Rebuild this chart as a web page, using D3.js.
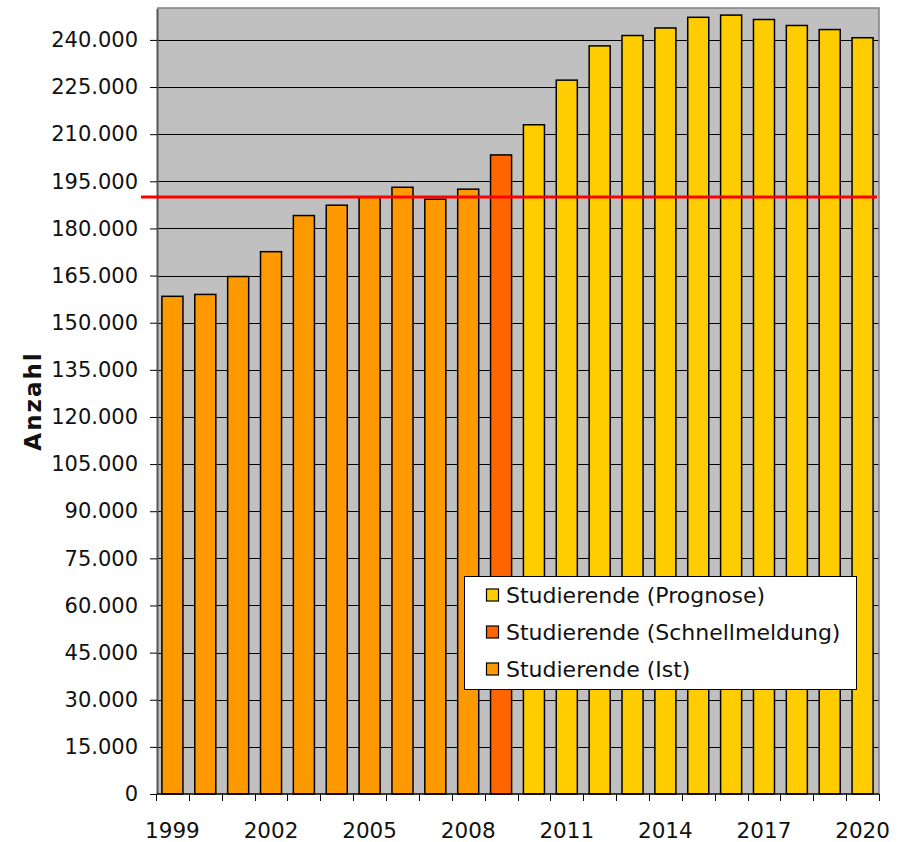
<!DOCTYPE html>
<html><head><meta charset="utf-8">
<script src="https://cdn.jsdelivr.net/npm/d3@7"></script>
<style>body{margin:0;background:#fff}svg{display:block}text{font-family:"DejaVu Sans",sans-serif;fill:#111}</style>
</head><body><svg id="c" width="903" height="842"></svg>
<script>
const years = [1999,2000,2001,2002,2003,2004,2005,2006,2007,2008,2009,2010,2011,2012,2013,2014,2015,2016,2017,2018,2019,2020];
const studierende = [158400,159000,164700,172600,184100,187400,189900,193100,189300,192500,203400,213000,227200,238100,241400,243800,247200,247900,246500,244600,243300,240700];
const seriesType = ["Ist","Ist","Ist","Ist","Ist","Ist","Ist","Ist","Ist","Ist","Schnellmeldung","Prognose","Prognose","Prognose","Prognose","Prognose","Prognose","Prognose","Prognose","Prognose","Prognose","Prognose"];
const legendLabels = ["Studierende (Prognose)","Studierende (Schnellmeldung)","Studierende (Ist)"];
const legendKeys = ["Prognose","Schnellmeldung","Ist"];
const yTicks = [0,15000,30000,45000,60000,75000,90000,105000,120000,135000,150000,165000,180000,195000,210000,225000,240000];
const xLabelYears = [1999,2002,2005,2008,2011,2014,2017,2020];
const referenceValue = 190000;
const colors = {Ist:"#FF9900", Schnellmeldung:"#FF6600", Prognose:"#FFCC00"};

const svg = d3.select("#c");
const L=157, R=879, T=8, B=794;
const x = d3.scaleBand().domain(years).range([156, R]).paddingInner(0.36).paddingOuter(0.18);
const y = d3.scaleLinear().domain([0,250000]).range([B, 8.5]);
const fmt = v => d3.format(",")(v).replace(/,/g,".");

svg.append("rect").attr("x",L).attr("y",T).attr("width",R-L).attr("height",B-T).attr("fill","#C0C0C0");

// grid
svg.append("g").selectAll("line").data(yTicks.filter(d=>d>0)).join("line")
  .attr("x1",L).attr("x2",R).attr("y1",d=>Math.round(y(d))+0.5).attr("y2",d=>Math.round(y(d))+0.5)
  .attr("stroke","#000").attr("stroke-width",1);

// border
svg.append("path").attr("d",`M${L},${T}H${R}V${B}`).attr("fill","none").attr("stroke","#808080").attr("stroke-width",1.5);

// bars
svg.append("g").selectAll("rect").data(years).join("rect")
  .attr("x",(d)=>x(d)).attr("width",x.bandwidth())
  .attr("y",(d,i)=>y(studierende[i])).attr("height",(d,i)=>B-y(studierende[i]))
  .attr("fill",(d,i)=>colors[seriesType[i]]).attr("stroke","#000").attr("stroke-width",1.5);

// y axis
const ya = svg.append("g").attr("transform",`translate(${L},0)`)
  .call(d3.axisLeft(y).tickValues(yTicks).tickFormat(fmt).tickSize(7).tickPadding(12).tickSizeOuter(0));
ya.select(".domain").attr("stroke","#555").attr("stroke-width",2);
ya.selectAll(".tick line").attr("stroke","#000");
ya.selectAll("text").attr("font-size",21).attr("fill","#111").attr("font-family","DejaVu Sans");

// x axis
const step = x.step();
const bounds = years.map(d=>x(d)-(step-x.bandwidth())/2).concat([x(years[years.length-1])+x.bandwidth()+(step-x.bandwidth())/2]);
const xg = svg.append("g");
xg.append("line").attr("x1",L).attr("x2",R).attr("y1",B).attr("y2",B).attr("stroke","#000").attr("stroke-width",1.5);
xg.selectAll("line.t").data(bounds).join("line").attr("class","t")
  .attr("x1",d=>Math.round(d)+0.5).attr("x2",d=>Math.round(d)+0.5).attr("y1",B).attr("y2",B+7).attr("stroke","#000");
xg.selectAll("text").data(xLabelYears).join("text")
  .attr("x",d=>x(d)+x.bandwidth()/2).attr("y",838).attr("text-anchor","middle")
  .attr("font-size",21.5).text(d=>d);

// reference line
svg.append("line").attr("x1",141).attr("x2",877).attr("y1",y(referenceValue)).attr("y2",y(referenceValue))
  .attr("stroke","#FF0000").attr("stroke-width",3);

// y label
svg.append("text").attr("transform","translate(41,401) rotate(-90)").attr("text-anchor","middle")
  .attr("font-size",23).attr("font-weight","bold").attr("letter-spacing",2).text("Anzahl");

// legend
const lg = svg.append("g");
lg.append("rect").attr("x",464.5).attr("y",576.5).attr("width",392).attr("height",113).attr("fill","#fff").attr("stroke","#000").attr("stroke-width",1);
legendLabels.forEach((lab,i)=>{
  const cy = 595 + i*37;
  lg.append("rect").attr("x",486.5).attr("y",cy-6).attr("width",12).attr("height",12)
    .attr("fill",colors[legendKeys[i]]).attr("stroke","#000").attr("stroke-width",1.2);
  lg.append("text").attr("x",506).attr("y",cy+8).attr("font-size",22).text(lab);
});
</script></body></html>
